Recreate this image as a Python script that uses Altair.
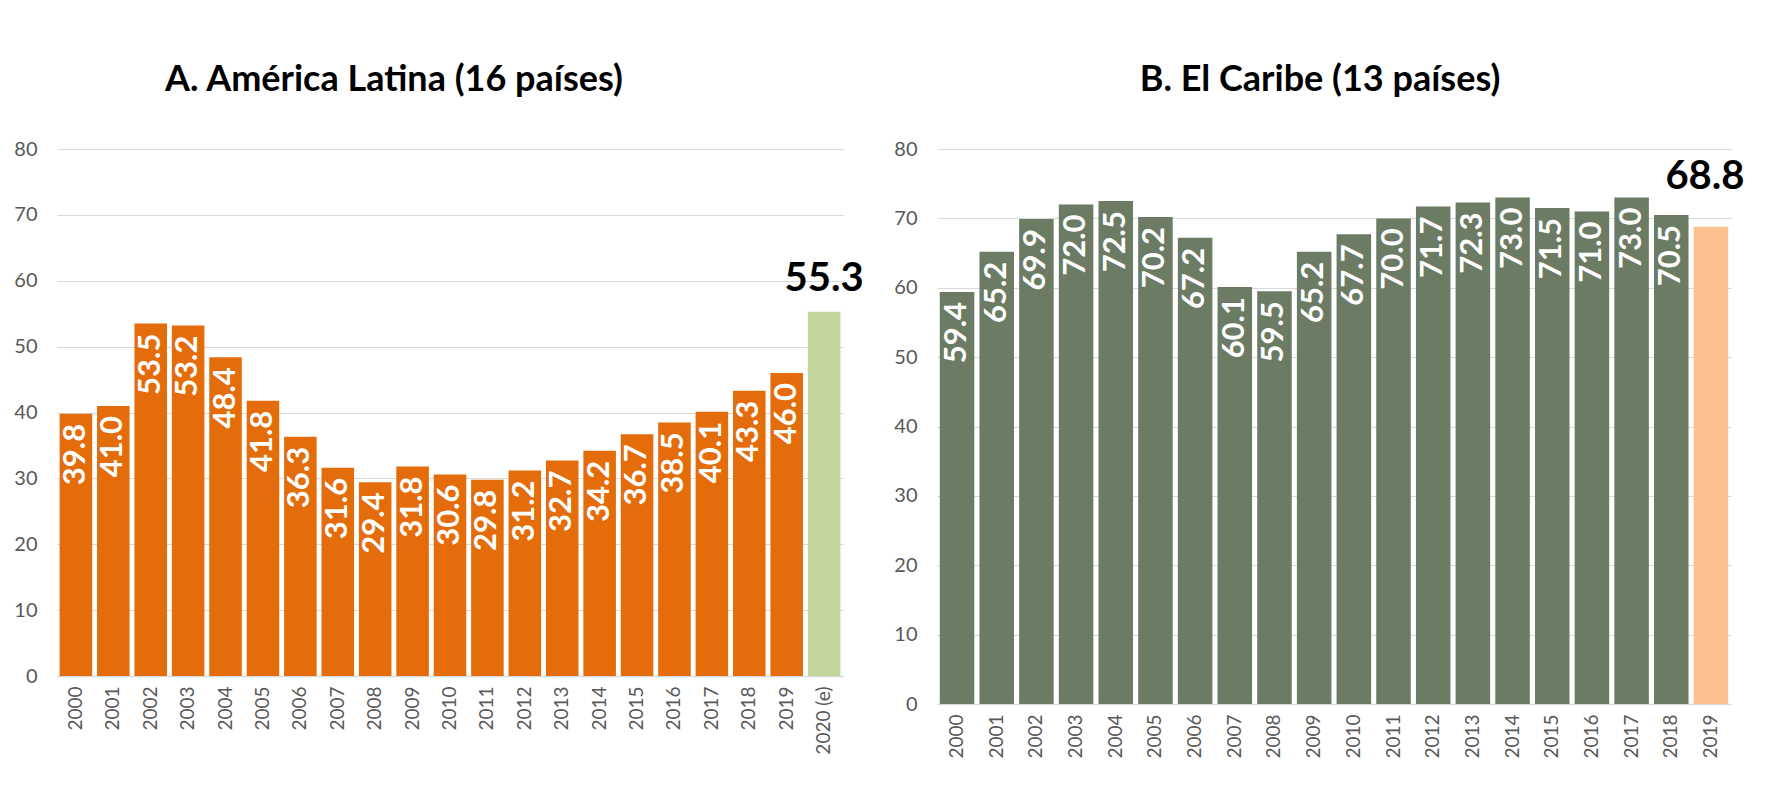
import altair as alt
import pandas as pd

# ---------------- data ----------------
years_al = ["2000", "2001", "2002", "2003", "2004", "2005", "2006", "2007", "2008", "2009",
            "2010", "2011", "2012", "2013", "2014", "2015", "2016", "2017", "2018", "2019", "2020 (e)"]
vals_al = [39.8, 41.0, 53.5, 53.2, 48.4, 41.8, 36.3, 31.6, 29.4, 31.8,
           30.6, 29.8, 31.2, 32.7, 34.2, 36.7, 38.5, 40.1, 43.3, 46.0, 55.3]

years_car = ["2000", "2001", "2002", "2003", "2004", "2005", "2006", "2007", "2008", "2009",
             "2010", "2011", "2012", "2013", "2014", "2015", "2016", "2017", "2018", "2019"]
vals_car = [59.4, 65.2, 69.9, 72.0, 72.5, 70.2, 67.2, 60.1, 59.5, 65.2,
            67.7, 70.0, 71.7, 72.3, 73.0, 71.5, 71.0, 73.0, 70.5, 68.8]

y_ticks = [0, 10, 20, 30, 40, 50, 60, 70, 80]

FONT = "Lato"
AXIS_COL = "#595959"
GRID_COL = "#D9D9D9"


def panel(years, vals, title, col_main, col_last, width, height, ann_dx, ann_dy, title_dx):
    n = len(years)
    df = pd.DataFrame({"anio": years, "valor": vals,
                       "tipo": ["obs"] * (n - 1) + ["ult"]})
    base = alt.Chart(df).encode(
        x=alt.X("anio:N", sort=years, title=None,
                scale=alt.Scale(paddingInner=0.13, paddingOuter=0.07),
                axis=alt.Axis(labelAngle=-90, labelFont=FONT, labelFontSize=19,
                              labelColor=AXIS_COL, labelPadding=10, ticks=False,
                              domainColor=GRID_COL, domainWidth=1.5)),
        y=alt.Y("valor:Q", title=None, scale=alt.Scale(domain=[0, 80]),
                axis=alt.Axis(values=y_ticks, grid=True, gridColor=GRID_COL,
                              gridWidth=1.2, domain=False, ticks=False,
                              labelFont=FONT, labelFontSize=20,
                              labelColor=AXIS_COL, labelPadding=20)),
    )
    bars = base.mark_bar(color=col_main).encode(
        color=alt.Color("tipo:N",
                        scale=alt.Scale(domain=["obs", "ult"], range=[col_main, col_last]),
                        legend=None))
    labels = base.transform_filter(alt.datum.tipo == "obs").mark_text(
        angle=270, align="right", baseline="middle", dx=-10,
        font=FONT, fontWeight="bold", fontSize=31, color="white"
    ).encode(text=alt.Text("valor:Q", format=".1f"))
    ann = base.transform_filter(alt.datum.tipo == "ult").mark_text(
        align="center", baseline="bottom", dx=ann_dx, dy=ann_dy,
        font=FONT, fontWeight="bold", fontSize=40, color="black"
    ).encode(text=alt.Text("valor:Q", format=".1f"))
    return alt.layer(bars, labels, ann).properties(
        width=width, height=height,
        title=alt.TitleParams(title, font=FONT, fontSize=36, fontWeight="bold",
                              color="black", offset=40, anchor="middle", dx=title_dx))


left = panel(years_al, vals_al, "A. América Latina (16 países)",
             "#E46C0A", "#C3D69B", 786, 527, 0, -13, -56)
right = panel(years_car, vals_car, "B. El Caribe (13 países)",
              "#6B7B64", "#FAC090", 794, 555, -6, -30, -14)

chart = alt.hconcat(left, right, spacing=29).resolve_scale(
    color="independent"
).properties(
    padding={"top": 54, "left": 5, "right": 5, "bottom": 5}
).configure_view(stroke=None)

chart.save("out.html", embed_options={"renderer": "svg", "actions": False})
